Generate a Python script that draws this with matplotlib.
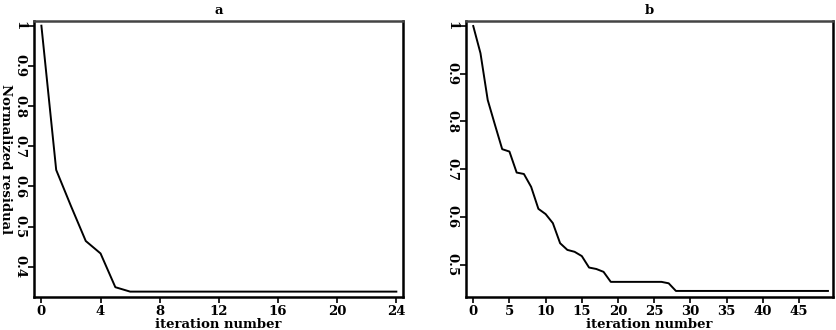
import matplotlib
matplotlib.use("Agg")
import matplotlib.pyplot as plt

iters_a = list(range(25))
resid_a = [1.0, 0.641, 0.551, 0.464, 0.433, 0.349, 0.338, 0.338, 0.338, 0.338,
           0.338, 0.338, 0.338, 0.338, 0.338, 0.338, 0.338, 0.338, 0.338, 0.338,
           0.338, 0.338, 0.338, 0.338, 0.338]
xticks_a = [0, 4, 8, 12, 16, 20, 24]
yticks_a = [0.4, 0.5, 0.6, 0.7, 0.8, 0.9, 1.0]
yticklabels_a = ["0.4", "0.5", "0.6", "0.7", "0.8", "0.9", "1"]

iters_b = list(range(50))
resid_b = [1.0, 0.943, 0.845, 0.793, 0.742, 0.737, 0.693, 0.690, 0.663, 0.617,
           0.606, 0.587, 0.545, 0.531, 0.527, 0.518, 0.494, 0.491, 0.485, 0.464,
           0.464, 0.464, 0.464, 0.464, 0.464, 0.464, 0.464, 0.461, 0.445] + [0.445] * 21
xticks_b = [0, 5, 10, 15, 20, 25, 30, 35, 40, 45]
yticks_b = [0.5, 0.6, 0.7, 0.8, 0.9, 1.0]
yticklabels_b = ["0.5", "0.6", "0.7", "0.8", "0.9", "1"]

plt.rcParams['font.family'] = ['DejaVu Serif']
plt.rcParams['font.weight'] = 'bold'
fs = 9.5

fig = plt.figure(figsize=(8.36, 3.30), dpi=100)
W, H = 836, 330
ax1 = fig.add_axes([34 / W, 1 - 297 / H, (403 - 34) / W, (297 - 21) / H])
ax2 = fig.add_axes([466 / W, 1 - 297 / H, (833 - 466) / W, (297 - 21) / H])

def style(ax):
    for s in ['left', 'bottom', 'right', 'top']:
        ax.spines[s].set_linewidth(1.8)
        ax.spines[s].set_color('black')
    ax.spines['top'].set_color('#444444')
    ax.tick_params(axis='both', direction='out', length=4, width=1.2,
                   labelsize=fs, top=False, right=False, pad=1.5)
    for lab in ax.get_xticklabels() + ax.get_yticklabels():
        lab.set_fontweight('bold')

ax1.plot(iters_a, resid_a, color='black', lw=1.4)
ax1.set_xlim(-0.5, 24.45)
ax1.set_ylim(0.3246, 1.0117)
ax1.set_xticks(xticks_a)
ax1.set_yticks(yticks_a)
ax1.set_yticklabels(yticklabels_a, rotation=-90, va='center')
ax1.set_title('a', fontsize=fs, fontweight='bold', pad=5)
ax1.set_xlabel('iteration number', fontsize=fs, fontweight='bold', labelpad=0)
ax1.xaxis.set_label_coords(0.5, -0.075)
ax1.set_ylabel('Normalized residual', fontsize=fs, fontweight='bold',
               rotation=-90, va='center')
ax1.yaxis.set_label_coords(-0.078, 0.5)
style(ax1)

ax2.plot(iters_b, resid_b, color='black', lw=1.4)
ax2.set_xlim(-1.0, 49.7)
ax2.set_ylim(0.4323, 1.0105)
ax2.set_xticks(xticks_b)
ax2.set_yticks(yticks_b)
ax2.set_yticklabels(yticklabels_b, rotation=-90, va='center')
ax2.set_title('b', fontsize=fs, fontweight='bold', pad=5)
ax2.set_xlabel('iteration number', fontsize=fs, fontweight='bold', labelpad=0)
ax2.xaxis.set_label_coords(0.5, -0.075)
style(ax2)

fig.savefig('out.png', dpi=100)
